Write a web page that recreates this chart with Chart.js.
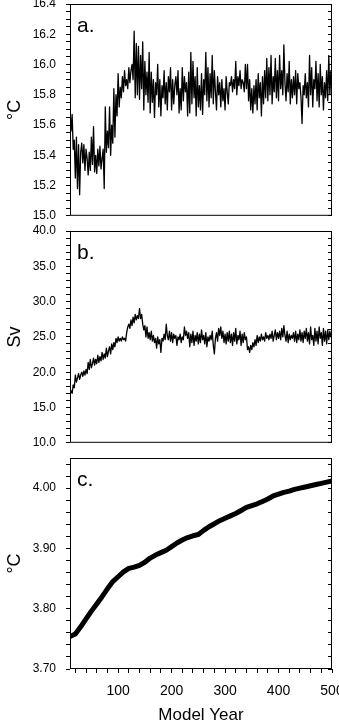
<!DOCTYPE html>
<html>
<head>
<meta charset="utf-8">
<script src="https://cdn.jsdelivr.net/npm/chart.js@4.4.1/dist/chart.umd.min.js"></script>
<style>
  html, body { margin: 0; padding: 0; background: #fff; overflow: hidden; width: 339px; height: 722px; }
  canvas { position: absolute; left: 0; }
  #chartA { top: -20px; }
  #chartB { top: 210px; }
  #chartC { top: 430px; }
</style>
</head>
<body>
<canvas id="chartA" width="360" height="253"></canvas>
<canvas id="chartB" width="360" height="250"></canvas>
<canvas id="chartC" width="360" height="300"></canvas>
<script>
// model years shown on the x axis
const firstYear = 10;
const lastYear = 500;
const xMajor = [100, 200, 300, 400, 500];
const xMinorStep = 20;

// a. global mean surface temperature (every 2nd year from year 10)
const stepA = 2;
const tempA = [
    15.70, 15.56, 15.67, 15.44, 15.50, 15.25, 15.52, 15.18, 15.47, 15.14, 15.42,
    15.48, 15.35, 15.47, 15.30, 15.44, 15.38, 15.27, 15.42, 15.30, 15.52, 15.34,
    15.59, 15.29, 15.40, 15.28, 15.44, 15.33, 15.46, 15.31, 15.38, 15.44, 15.18,
    15.72, 15.42, 15.56, 15.45, 15.72, 15.40, 15.60, 15.48, 15.84, 15.52, 15.80,
    15.66, 15.94, 15.72, 15.85, 15.78, 15.92, 15.82, 15.96, 15.86, 15.90, 15.84,
    15.98, 15.88, 15.96, 16.00, 15.90, 16.22, 15.78, 16.14, 15.80, 16.12, 15.77,
    16.06, 15.84, 16.15, 15.70, 16.02, 15.80, 15.95, 15.75, 16.08, 15.68, 15.95,
    15.75, 15.90, 15.65, 15.88, 15.80, 16.00, 15.72, 15.90, 15.66, 15.86, 15.78,
    15.96, 15.74, 15.88, 15.70, 15.92, 15.82, 15.98, 15.70, 15.90, 15.74, 15.86,
    15.92, 15.80, 15.96, 15.68, 15.84, 15.70, 15.98, 15.76, 15.92, 15.82, 15.88,
    15.66, 15.95, 15.68, 16.08, 15.74, 16.02, 15.78, 15.92, 15.66, 15.98, 15.72,
    15.86, 15.70, 15.94, 15.67, 15.90, 15.80, 16.08, 15.76, 15.98, 15.72, 15.94,
    15.78, 16.06, 15.74, 15.96, 15.82, 15.70, 15.92, 15.80, 15.88, 15.72, 15.90,
    15.76, 15.84, 15.70, 15.92, 15.82, 15.74, 15.88, 15.86, 15.92, 15.82, 15.90,
    15.84, 16.02, 15.80, 15.92, 15.86, 15.96, 15.84, 15.90, 15.88, 15.82, 16.00,
    15.84, 16.00, 15.76, 15.90, 15.70, 15.84, 15.68, 15.86, 15.74, 15.90, 15.70,
    15.94, 15.78, 15.88, 15.66, 15.92, 15.74, 15.96, 15.78, 16.04, 15.76, 15.98,
    15.80, 16.06, 15.74, 15.92, 15.82, 16.04, 15.78, 15.96, 15.76, 16.06, 15.84,
    15.96, 15.80, 16.13, 15.88, 15.76, 15.94, 15.82, 16.02, 15.74, 15.90, 15.78,
    15.92, 15.80, 15.96, 15.74, 15.94, 15.84, 15.88, 15.78, 15.61, 15.86, 15.80,
    15.94, 15.78, 15.88, 15.72, 16.06, 15.80, 15.98, 15.72, 15.90, 15.84, 16.02,
    15.76, 15.94, 15.72, 16.00, 15.80, 15.92, 15.70, 15.88, 15.78, 15.96, 15.76,
    16.06, 15.80, 15.96, 15.84
];
const aMajor = [15.0, 15.2, 15.4, 15.6, 15.8, 16.0, 16.2, 16.4];
const aMinorStep = 0.05;

// b. overturning strength in Sv (every 2nd year from year 10)
const stepB = 2;
const amocB = [
    16.8, 17.4, 17.0, 18.2, 17.8, 19.6, 18.6, 19.2, 19.8, 19.0, 19.6,
    20.0, 19.4, 20.2, 19.6, 20.4, 19.8, 21.4, 20.4, 21.8, 20.6, 21.2,
    22.0, 21.0, 21.8, 21.2, 22.4, 21.4, 22.2, 21.6, 22.8, 21.8, 22.6,
    22.0, 23.4, 22.2, 23.0, 23.6, 22.6, 24.0, 23.2, 24.2, 23.6, 24.8,
    24.2, 25.0, 24.4, 24.8, 24.4, 25.0, 24.6, 24.8, 24.4, 25.6, 26.4,
    26.8, 26.2, 27.4, 26.6, 27.8, 27.0, 28.2, 27.4, 28.0, 27.6, 29.0,
    27.6, 28.2, 26.8, 26.0, 26.6, 25.0, 26.4, 24.8, 25.6, 24.6, 25.8,
    24.4, 25.2, 24.2, 24.8, 23.4, 25.0, 24.0, 24.6, 22.8, 24.8, 24.4,
    25.4, 24.6, 26.8, 25.2, 24.6, 25.8, 24.4, 25.6, 24.2, 25.4, 24.8,
    25.2, 23.8, 25.0, 24.6, 25.4, 24.2, 25.0, 24.6, 26.4, 25.2, 25.8,
    24.8, 25.6, 23.6, 25.4, 24.2, 25.8, 23.8, 25.2, 24.4, 25.6, 24.0,
    25.4, 24.2, 26.0, 24.6, 25.2, 24.0, 25.6, 23.6, 25.0, 24.4, 25.2,
    24.6, 25.8, 23.8, 22.6, 24.8, 25.6, 24.4, 26.2, 25.2, 26.4, 24.8,
    25.8, 24.2, 25.4, 24.0, 25.6, 24.4, 25.8, 24.2, 25.4, 23.8, 25.6,
    24.4, 26.2, 24.0, 25.2, 24.6, 25.8, 23.8, 25.4, 24.2, 25.6, 24.6,
    25.0, 23.2, 23.6, 22.8, 23.8, 23.2, 24.2, 23.6, 24.6, 23.8, 25.2,
    24.2, 25.0, 24.4, 25.4, 24.6, 25.0, 24.4, 25.6, 24.8, 25.2, 24.6,
    25.4, 24.8, 25.8, 24.4, 25.2, 26.0, 24.6, 25.6, 24.8, 25.8, 24.6,
    26.2, 25.0, 26.6, 25.2, 24.4, 25.8, 24.2, 25.4, 24.6, 25.2, 24.8,
    25.6, 24.4, 25.8, 24.2, 25.4, 24.6, 26.0, 24.4, 25.6, 24.2, 25.8,
    24.8, 26.2, 24.4, 25.6, 24.0, 26.4, 24.6, 25.2, 23.8, 26.2, 24.4,
    25.8, 24.0, 26.4, 24.8, 25.6, 23.8, 26.2, 24.4, 25.8, 24.0, 26.0,
    24.6, 25.8, 25.0, 25.6
];
const bMajor = [10, 15, 20, 25, 30, 35, 40];
const bMinorStep = 1;

// c. deep ocean temperature (every 10th year from year 10)
const stepC = 10;
const deepC = [
    3.754, 3.758, 3.770, 3.783, 3.796, 3.808, 3.820, 3.833, 3.845, 3.853,
    3.861, 3.867, 3.869, 3.872, 3.877, 3.884, 3.889, 3.893, 3.897, 3.903,
    3.909, 3.914, 3.918, 3.921, 3.923, 3.930, 3.936, 3.941, 3.946, 3.950,
    3.954, 3.958, 3.963, 3.968, 3.971, 3.974, 3.978, 3.982, 3.987, 3.990,
    3.993, 3.995, 3.998, 4.000, 4.002, 4.004, 4.006, 4.008, 4.010, 4.012
];
const cMajor = [3.70, 3.80, 3.90, 4.00];
const cMinorStep = 0.02;
const cMax = 4.05;

const fonte = '"Liberation Sans", Arial, sans-serif';

function tickList(min, max, step) {
    const out = [];
    for (let v = min; v <= max + 1e-9; v += step) out.push(Math.round(v * 1000) / 1000);
    return out;
}

function isMajor(v, majors) {
    return majors.some(m => Math.abs(m - v) < 1e-6);
}

// box around the plot and the panel letter
const moldura = {
    id: 'moldura',
    afterDraw(chart, args, opts) {
        const { ctx, chartArea: a } = chart;
        ctx.save();
        ctx.strokeStyle = '#000';
        ctx.lineWidth = 1;
        ctx.strokeRect(a.left + 0.5, a.top + 0.5, a.right - a.left - 1, a.bottom - a.top - 1);
        ctx.fillStyle = '#000';
        ctx.font = '21px ' + fonte;
        ctx.textBaseline = 'alphabetic';
        ctx.fillText(opts.letra, a.left + 7, a.top + 28);
        ctx.restore();
    }
};

function painel(id, valores, passo, yMin, yMax, majors, minorStep, casas, titulo, largura, padTop, padBottom, letra, comEixoX) {
    const pontos = valores.map((v, i) => ({ x: firstYear + i * passo, y: v }));
    const yTicks = tickList(majors[0], yMax, minorStep);
    const xTicks = tickList(xMinorStep, lastYear, xMinorStep);

    return new Chart(document.getElementById(id), {
        type: 'line',
        data: {
            datasets: [{
                data: pontos,
                borderColor: '#000',
                borderWidth: largura,
                borderJoinStyle: 'round',
                pointRadius: 0,
                tension: 0,
                fill: false
            }]
        },
        plugins: [moldura],
        options: {
            responsive: false,
            animation: false,
            events: [],
            layout: { padding: { top: padTop, bottom: padBottom, left: 0, right: 28 } },
            plugins: {
                legend: { display: false },
                tooltip: { enabled: false },
                moldura: { letra: letra }
            },
            scales: {
                x: {
                    type: 'linear',
                    min: firstYear,
                    max: lastYear,
                    afterBuildTicks: s => { s.ticks = xTicks.map(v => ({ value: v })); },
                    afterFit: s => { s.height = comEixoX ? 61 : 0; },
                    grid: { display: comEixoX, drawOnChartArea: false, color: '#000', tickLength: 4 },
                    border: { display: false },
                    ticks: {
                        display: comEixoX,
                        autoSkip: false,
                        maxRotation: 0,
                        padding: 10,
                        color: '#000',
                        font: { family: fonte, size: 14 },
                        callback: v => isMajor(v, xMajor) ? String(v) : ''
                    },
                    title: {
                        display: comEixoX,
                        text: 'Model Year',
                        color: '#000',
                        font: { family: fonte, size: 17 },
                        padding: { top: 4, bottom: 4 }
                    }
                },
                y: {
                    min: yMin,
                    max: yMax,
                    afterBuildTicks: s => { s.ticks = yTicks.map(v => ({ value: v })); },
                    afterFit: s => { s.width = 70; },
                    grid: { drawOnChartArea: false, color: '#000', tickLength: 4 },
                    border: { display: false },
                    ticks: {
                        autoSkip: false,
                        padding: 10,
                        color: '#000',
                        font: { family: fonte, size: 12 },
                        callback: v => isMajor(v, majors) ? v.toFixed(casas) : ''
                    },
                    title: {
                        display: true,
                        text: titulo,
                        color: '#000',
                        font: { family: fonte, size: 18 },
                        padding: { top: 4, bottom: 4 }
                    }
                },
                y2: {
                    position: 'right',
                    min: yMin,
                    max: yMax,
                    afterBuildTicks: s => { s.ticks = yTicks.map(v => ({ value: v })); },
                    afterFit: s => { s.width = 0; },
                    grid: { drawOnChartArea: false, color: '#000', tickLength: -4 },
                    border: { display: false },
                    ticks: { display: false, autoSkip: false }
                }
            }
        }
    });
}

painel('chartA', tempA, stepA, 15.0, 16.4, aMajor, aMinorStep, 1, '°C', 1.3, 24, 0, 'a.', false);
painel('chartB', amocB, stepB, 10, 40, bMajor, bMinorStep, 1, 'Sv', 1.3, 21, 0, 'b.', false);
painel('chartC', deepC, stepC, 3.70, cMax, cMajor, cMinorStep, 2, '°C', 5, 28, 0, 'c.', true);
</script>
</body>
</html>
